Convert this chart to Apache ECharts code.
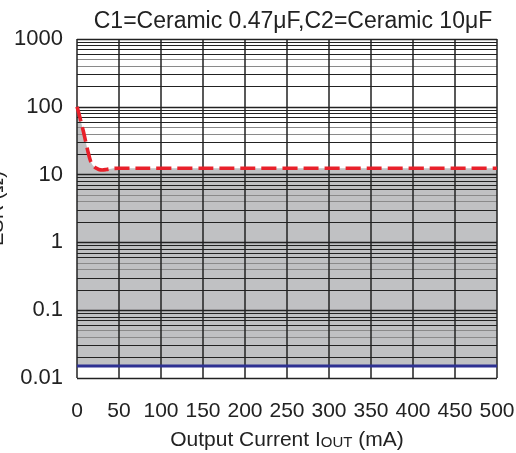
<!DOCTYPE html>
<html>
<head>
<meta charset="utf-8">
<script src="https://cdn.jsdelivr.net/npm/echarts@6/dist/echarts.min.js"></script>
<style>
html,body{margin:0;padding:0;background:#fff;}
#chart{width:516px;height:453px;}
</style>
</head>
<body>
<div id="chart"></div>
<script>
// ---- data ----
var titleText = 'C1=Ceramic 0.47\u03bcF,C2=Ceramic 10\u03bcF';
var xTicks = [0, 50, 100, 150, 200, 250, 300, 350, 400, 450, 500];
var yTicks = [0.01, 0.1, 1, 10, 100, 1000];
// upper ESR limit (red dashed) : [Iout mA, ESR ohm]
var upperLimit = [[0,100],[2.5,78],[5,58],[7.5,44],[10,32],[13,22],[16,16],[19,13.6],[22,12.6],[26,11.9],[30,11.7],[35,11.9],[42,12.3],[50,12.4],[500,12.4]];
// lower ESR limit (blue)
var lowerLimit = [[0,0.015],[500,0.015]];
var lowerValue = 0.015;
// minor grid multipliers per decade
var darkMinor = [2, 3, 6, 7, 8, 9];
var grayMinor = [4, 5];

// ---- build grid lines ----
var lines = [];
var decades = [0.01, 0.1, 1, 10, 100];
decades.forEach(function (d) {
  darkMinor.forEach(function (m) { lines.push({yAxis: +(d * m).toPrecision(3), lineStyle: {color: '#222', width: 1, type: 'solid'}}); });
  grayMinor.forEach(function (m) { lines.push({yAxis: +(d * m).toPrecision(3), lineStyle: {color: '#8a8a8a', width: 1, type: 'solid'}}); });
});
yTicks.forEach(function (v) { lines.push({yAxis: v, lineStyle: {color: '#222', width: 1.3, type: 'solid'}}); });
xTicks.forEach(function (v) { lines.push({xAxis: v, lineStyle: {color: '#222', width: 1.5, type: 'solid'}}); });

var chart = echarts.init(document.getElementById('chart'), null, {renderer: 'canvas'});
var font = 'Liberation Sans, Arial, sans-serif';
chart.setOption({
  animation: false,
  backgroundColor: '#fff',
  title: {
    text: titleText, left: 288, top: 5, textAlign: 'center',
    textStyle: {fontFamily: font, fontSize: 23, fontWeight: 'normal', color: '#222'}
  },
  grid: {left: 77, right: 19, top: 39, bottom: 75, containLabel: false, outerBoundsMode: 'none'},
  xAxis: {
    type: 'value', min: 0, max: 500, interval: 50,
    axisLine: {show: false}, axisTick: {show: false}, splitLine: {show: false},
    axisLabel: {margin: 23, fontFamily: font, fontSize: 21, color: '#222'},
    name: '{a|Output Current I}{b|OUT}{a| (mA)}', nameLocation: 'middle', nameGap: 52, nameMoveOverlap: false,
    nameTextStyle: {rich: {a: {fontFamily: font, fontSize: 21, color: '#222'}, b: {fontFamily: font, fontSize: 15, color: '#222', verticalAlign: 'bottom', padding: [0,0,1,0]}}}
  },
  yAxis: {
    type: 'log', logBase: 10, min: 0.01, max: 1000,
    axisLine: {show: false}, axisTick: {show: false}, splitLine: {show: false}, minorSplitLine: {show: false},
    axisLabel: {margin: 14, fontFamily: font, fontSize: 22, color: '#222',
      formatter: function (v) { return v >= 1 ? String(Math.round(v)) : String(+v.toPrecision(1)); }},
    name: 'ESR (\u03a9)', nameLocation: 'middle', nameGap: 70, nameRotate: 90, nameMoveOverlap: false,
    nameTextStyle: {fontFamily: font, fontSize: 20, color: '#222'}
  },
  series: [
    {
      name: 'area', type: 'line', data: upperLimit, smooth: 0.3, symbol: 'none', z: 1,
      lineStyle: {width: 0, opacity: 0},
      areaStyle: {color: '#c0c1c3', opacity: 1, origin: lowerValue},
      silent: true
    },
    {
      name: 'grid', type: 'line', data: [], z: 2, silent: true,
      markLine: {silent: true, symbol: ['none', 'none'], label: {show: false}, z: 3, animation: false, data: lines}
    },
    {
      name: 'upper', type: 'line', data: upperLimit, smooth: 0.3, symbol: 'none', z: 10,
      lineStyle: {color: '#e8202a', width: 3.6, type: [15, 6]}
    },
    {
      name: 'lower', type: 'line', data: lowerLimit, symbol: 'none', z: 10,
      lineStyle: {color: '#2e3192', width: 3}
    }
  ]
});
</script>
</body>
</html>
